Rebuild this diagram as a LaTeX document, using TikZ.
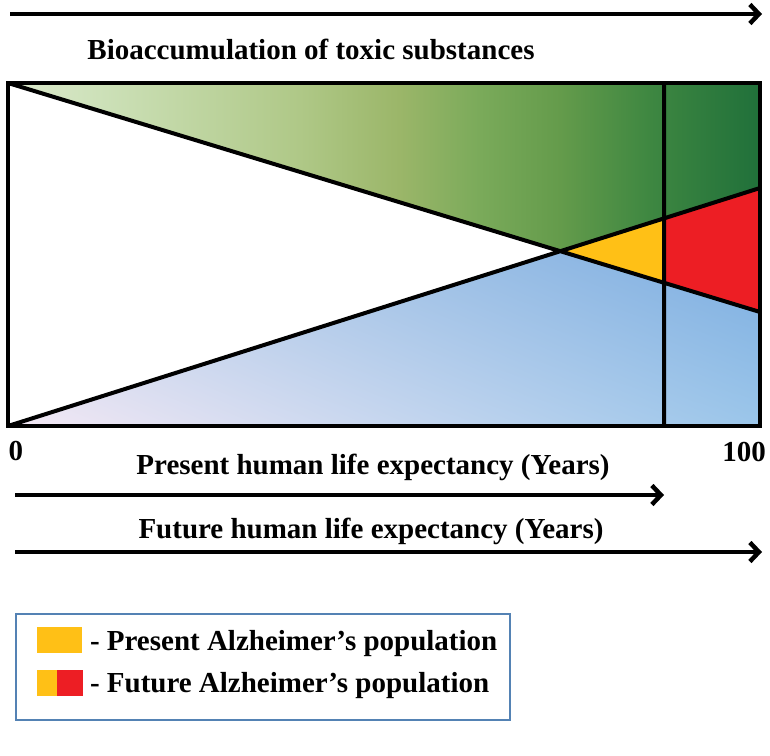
\documentclass[tikz,border=0pt]{standalone}
\usepackage{fontspec}
\setmainfont{Liberation Serif}
\usetikzlibrary{arrows.meta,positioning,shadings}

\definecolor{leafA}{RGB}{220,233,205}
\definecolor{leafB}{RGB}{205,225,185}
\definecolor{leafC}{RGB}{175,200,135}
\definecolor{leafD}{RGB}{155,182,105}
\definecolor{leafE}{RGB}{122,170,90}
\definecolor{leafF}{RGB}{100,155,75}
\definecolor{leafG}{RGB}{62,135,65}
\definecolor{leafH}{RGB}{32,112,58}
\definecolor{skypale}{RGB}{244,232,244}
\definecolor{skylight}{RGB}{155,198,234}
\definecolor{skymid}{RGB}{196,214,236}
\definecolor{skydeep}{RGB}{124,173,224}
\definecolor{amber}{RGB}{255,192,22}
\definecolor{crimson}{RGB}{237,30,36}
\definecolor{framebl}{RGB}{84,130,180}

\pgfdeclarehorizontalshading{toxic}{100bp}{%
  color(0bp)=(leafA); color(25bp)=(leafA); color(31bp)=(leafB);
  color(44.4bp)=(leafC); color(51bp)=(leafD); color(56.4bp)=(leafE);
  color(61.7bp)=(leafF); color(67.7bp)=(leafG); color(75bp)=(leafH);
  color(100bp)=(leafH)}

\tikzset{
  lbl/.style={font=\bfseries\fontsize{29}{32}\selectfont, inner sep=0pt},
  timeline/.style={line width=4.5pt, -{Straight Barb[length=9pt,width=19pt]}}
}

\begin{document}
\begin{tikzpicture}[x=1pt,y=-1pt,line width=4pt]
		\useasboundingbox (0,0) rectangle (770,755);
		
		\coordinate (TL) at (8,83);   \coordinate (TR) at (760,83);
		\coordinate (BL) at (8,426);  \coordinate (BR) at (760,426);
		\coordinate (R1) at (760,312); \coordinate (R2) at (760,188);
		\coordinate (VT) at (664,83); \coordinate (VB) at (664,426);
		\coordinate (X)  at (intersection of TL--R1 and BL--R2);
		\coordinate (P1) at (intersection of BL--R2 and VT--VB);
		\coordinate (P2) at (intersection of TL--R1 and VT--VB);
		
		% toxic load and ageing
		\shade[shading=toxic] (TL)--(TR)--(R2)--(X)--cycle;
		\shade[lower left=skypale, lower right=skylight, upper left=skymid, upper right=skydeep]
		(BL)--(X)--(R1)--(BR)--cycle;
		\fill[amber] (X)--(P1)--(P2)--cycle;
		\fill[crimson] (P1)--(R2)--(R1)--(P2)--cycle;
		\draw (TL)--(R1) (BL)--(R2) (VT)--(VB);
		\draw (TL) rectangle (BR);
		
		% axes and titles
		\coordinate (A0) at (10,14);  \coordinate (A1) at (762,14);
		\coordinate (B0) at (15,495); \coordinate (B1) at (664,495);
		\coordinate (C0) at (15,552); \coordinate (C1) at (762,552);
		\draw[timeline] (A0)--(A1);
		\draw[timeline] (B0)--(B1);
		\draw[timeline] (C0)--(C1);
		\node[lbl, anchor=base] (bio) at (311,59) {Bioaccumulation of toxic substances};
		\node[lbl, anchor=base] (zero) at (16,460) {0};
		\node[lbl, anchor=base] (hundred) at (744,461) {100};
		\node[lbl, anchor=base] (present) at (373,474) {Present human life expectancy (Years)};
		\node[lbl, anchor=base] (future) at (371,538) {Future human life expectancy (Years)};
		
		% legend
		\coordinate (L0) at (16,614); \coordinate (L1) at (510,720);
		\draw[framebl, line width=1.5pt] (L0) rectangle (L1);
		\fill[amber] (37,627) rectangle (82,653);
		\fill[amber] (37,670) rectangle (57,696);
		\fill[crimson] (57,670) rectangle (83,696);
		\node[lbl, anchor=base west] (nowad) at (88,650) {- Present Alzheimer’s population};
		\node[lbl, anchor=base west] (latead) at (88,692) {- Future Alzheimer’s population};
	\end{tikzpicture}
\end{document}
